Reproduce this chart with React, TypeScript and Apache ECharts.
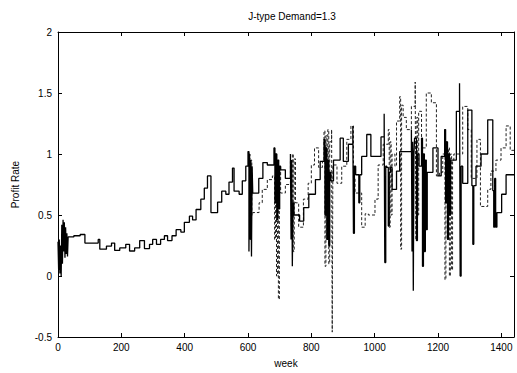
import React, { useEffect, useRef } from "react";
import * as echarts from "echarts";

const TITLE = "J-type Demand=1.3";
const X_NAME = "week";
const Y_NAME = "Profit Rate";
const X_TICKS = [0, 200, 400, 600, 800, 1000, 1200, 1400];
const Y_TICKS = [-0.5, 0, 0.5, 1, 1.5, 2];

// solid series: [week, value] where value holds from this week until the next point
const solidWeeks = [
  0, 2, 4, 6, 8, 10, 12, 14, 16, 18, 20, 22, 24, 26, 28, 30, 32, 50, 70, 85,
  127, 132, 153, 169, 179, 195, 214, 226, 242, 258, 273, 289, 299, 311, 324, 336, 346, 360, 373, 388,
  399, 415, 425, 436, 451, 462, 472, 483, 504, 517, 530, 540, 551, 556, 572, 582, 593, 600,
  603, 605, 607, 609, 611, 613, 615, 634, 647, 661, 682, 685, 688, 691, 694, 697, 700, 703, 718, 734,
  736, 738, 740, 742, 745, 763, 776, 792, 813, 828, 840, 843, 846, 849, 852, 855, 858, 862, 870, 891,
  901, 917, 931, 933, 936, 940, 950, 953, 959, 975, 988, 1020, 1030, 1032, 1035, 1038, 1043, 1046, 1050, 1055,
  1069, 1079, 1116, 1118, 1120, 1122, 1124, 1126, 1132, 1135, 1140, 1148, 1151, 1154, 1157, 1160, 1163, 1166, 1170, 1184,
  1200, 1210, 1221, 1224, 1227, 1230, 1233, 1236, 1240, 1258, 1268, 1270, 1273, 1278, 1294, 1307, 1310, 1313, 1320, 1336,
  1357, 1373, 1376, 1379, 1382, 1386, 1401, 1415, 1440,
];
const solidValues = [
  0.28, 0.05, 0.3, 0.02, 0.25, 0.0, 0.42, 0.1, 0.46, 0.2, 0.44, 0.15, 0.4, 0.18, 0.35, 0.16, 0.32, 0.33, 0.34, 0.27,
  0.3, 0.22, 0.245, 0.27, 0.21, 0.23, 0.26, 0.205, 0.23, 0.29, 0.225, 0.26, 0.3, 0.26, 0.3, 0.33, 0.29, 0.33, 0.38, 0.36,
  0.44, 0.49, 0.46, 0.545, 0.63, 0.72, 0.82, 0.52, 0.605, 0.695, 0.67, 0.77, 0.885, 0.695, 0.67, 0.78, 0.9, 1.02,
  0.2, 1.0, 0.3, 0.95, 0.16, 0.9, 0.68, 0.8, 0.93, 0.91, 1.05, 0.6, 1.0, 0.46, 0.95, 0.55, 0.9, 0.87, 0.8, 1.0,
  0.3, 0.95, 0.08, 0.6, 0.5, 0.45, 0.56, 0.67, 0.79, 0.94, 1.12, 0.5, 1.05, 0.3, 0.95, 0.25, 0.85, 0.78, 0.95, 1.13,
  0.94, 1.08, 1.23, 0.35, 0.9, 0.83, 0.6, 0.83, 0.98, 1.16, 0.98, 1.14, 1.33, 0.11, 0.9, 0.89, 0.41, 0.85, 0.89, 0.71,
  0.86, 1.02, 1.2, 0.2, 1.1, -0.12, 1.0, 1.13, 0.29, 1.0, 0.9, 1.13, 0.08, 1.0, 0.2, 0.95, 0.38, 0.85, 0.85, 1.05,
  0.82, 0.98, 1.2, 0.6, 1.1, 0.3, 1.0, 0.5, 0.95, 1.35, 1.58, 0.0, 0.9, 0.76, 1.36, 0.74, 0.26, 0.74, 0.9, 1.0,
  1.28, 0.7, 0.4, 0.8, 0.4, 0.52, 0.67, 0.83, 0.83,
];

// dashed series
const dashedWeeks = [
  603, 606, 609, 612, 615, 635, 645, 661, 677, 684, 687, 690, 693, 696, 699, 703, 718, 734, 737, 740,
  743, 746, 750, 760, 775, 790, 800, 810, 823, 835, 840, 843, 846, 849, 852, 855, 858, 864, 866, 868,
  881, 896, 912, 925, 933, 938, 959, 970, 980, 1001, 1011, 1027, 1043, 1046, 1049, 1052, 1055, 1064, 1069, 1079,
  1082, 1085, 1090, 1100, 1116, 1128, 1130, 1133, 1136, 1139, 1148, 1163, 1179, 1195, 1205, 1215, 1222, 1225, 1230, 1233,
  1236, 1239, 1243, 1246, 1250, 1278, 1294, 1305, 1323, 1334, 1357, 1367, 1383, 1399, 1415, 1428, 1440,
];
const dashedValues = [
  1.0, 0.3, 0.95, 0.5, 0.52, 0.6, 0.71, 0.79, 0.82, 0.3, 1.0, 0.0, 0.95, -0.19, 0.9, 0.68, 0.75, 0.94, 0.4, 1.0,
  0.2, 0.96, 0.6, 0.4, 0.63, 0.76, 0.91, 1.05, 0.89, 0.94, 1.19, 0.08, 1.15, 0.3, 1.2, 0.1, 1.1, 1.2, -0.46, 0.91,
  0.76, 0.9, 1.12, 1.23, 0.8, 0.68, 0.4, 0.51, 0.5, 0.63, 0.91, 1.08, 1.2, 0.4, 1.1, 0.5, 1.0, 0.9, 1.27, 1.47,
  0.22, 1.4, 1.3, 1.2, 1.39, 1.59, 0.3, 1.3, 0.5, 1.35, 1.05, 1.5, 1.42, 0.82, 0.85, 1.0, -0.03, 1.1, 0.5, 1.05,
  0.0, 1.0, 0.05, 0.95, 1.0, 1.39, 1.2, 0.8, 1.12, 0.57, 0.71, 0.86, 0.95, 1.05, 1.23, 1.03, 1.03,
];

const FONT = "'Liberation Sans', Arial, sans-serif";

export default function App() {
  const ref = useRef<HTMLDivElement>(null);
  useEffect(() => {
    if (!ref.current) return;
    const chart = echarts.init(ref.current, null, { renderer: "svg" });
    const solid = solidWeeks.map((w, i) => [w, solidValues[i]]);
    const dashed = dashedWeeks.map((w, i) => [w, dashedValues[i]]);
    const xFmt = (v: number) => (X_TICKS.includes(v) ? String(v) : "");
    const yFmt = (v: number) => (Y_TICKS.includes(v) ? String(v) : "");
    const axisLine = { show: true, onZero: false, lineStyle: { color: "#000", width: 1 } };
    const tick = { show: true, inside: true, length: 4, lineStyle: { color: "#000", width: 1 } };
    chart.setOption({
      animation: false,
      backgroundColor: "#fff",
      title: {
        text: TITLE,
        left: 287,
        textAlign: "center",
        top: 6,
        textStyle: { fontFamily: FONT, fontSize: 10, fontWeight: "normal", color: "#000" },
      },
      grid: { left: 58, right: 2, top: 32, bottom: 35 },
      xAxis: [
        {
          type: "value",
          min: 0,
          max: 1440,
          interval: 200,
          name: X_NAME,
          nameLocation: "middle",
          nameGap: 21,
          nameTextStyle: { fontFamily: FONT, fontSize: 10, color: "#000" },
          axisLine,
          axisTick: tick,
          axisLabel: { formatter: xFmt, fontFamily: FONT, fontSize: 10, color: "#000", margin: 5 },
          splitLine: { show: false },
        },
        {
          type: "value",
          position: "top",
          min: 0,
          max: 1440,
          interval: 200,
          axisLine,
          axisTick: tick,
          axisLabel: { show: false },
          splitLine: { show: false },
        },
      ],
      yAxis: [
        {
          type: "value",
          min: -0.5,
          max: 2,
          interval: 0.5,
          name: Y_NAME,
          nameLocation: "middle",
          nameGap: 38,
          nameRotate: 90,
          nameTextStyle: { fontFamily: FONT, fontSize: 10, color: "#000" },
          axisLine,
          axisTick: tick,
          axisLabel: { formatter: yFmt, fontFamily: FONT, fontSize: 10, color: "#000", margin: 6 },
          splitLine: { show: false },
        },
        {
          type: "value",
          position: "right",
          min: -0.5,
          max: 2,
          interval: 0.5,
          axisLine,
          axisTick: tick,
          axisLabel: { show: false },
          splitLine: { show: false },
        },
      ],
      series: [
        {
          type: "line",
          step: "end",
          data: dashed,
          showSymbol: false,
          lineStyle: { color: "#222", width: 1, type: [3, 2] },
          z: 2,
        },
        {
          type: "line",
          step: "end",
          data: solid,
          showSymbol: false,
          lineStyle: { color: "#000", width: 1.3 },
          z: 3,
        },
      ],
    });
    return () => chart.dispose();
  }, []);
  return <div ref={ref} style={{ width: 517, height: 373, position: "absolute", left: 0, top: 0 }} />;
}
